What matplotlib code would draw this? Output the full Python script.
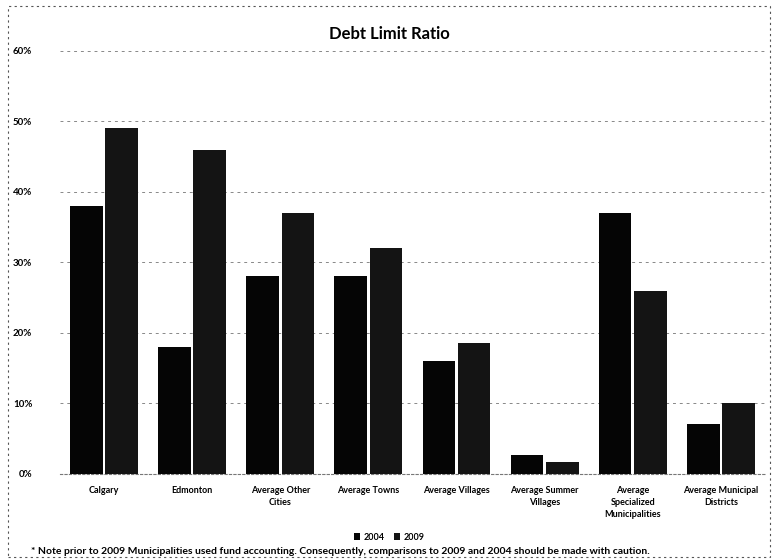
import matplotlib
matplotlib.use("Agg")
import matplotlib.pyplot as plt
import numpy as np
from matplotlib.patches import Rectangle

categories = ["Calgary", "Edmonton", "Average Other\nCities", "Average Towns",
              "Average Villages", "Average Summer\nVillages",
              "Average\nSpecialized\nMunicipalities", "Average Municipal\nDistricts"]
series_names = ["2004", "2009"]
values_2004 = [38, 18, 28, 28, 16, 2.6, 37, 7]
values_2009 = [49, 46, 37, 32, 18.5, 1.6, 26, 10]
yticks = [0, 10, 20, 30, 40, 50, 60]
ytick_labels = ["0%", "10%", "20%", "30%", "40%", "50%", "60%"]
title = "Debt Limit Ratio"
footnote = "* Note prior to 2009 Municipalities used fund accounting. Consequently, comparisons to 2009 and 2004 should be made with caution."

plt.rcParams['font.family'] = ['Lato', 'DejaVu Sans']

fig = plt.figure(figsize=(7.79, 5.6), dpi=100)
ax = fig.add_axes([0.077, 0.154, 0.905, 0.755])

x = np.arange(len(categories))
w = 0.37
ax.bar(x - 0.2, values_2004, width=w, color="#050505", label=series_names[0], zorder=3)
ax.bar(x + 0.2, values_2009, width=w, color="#141414", label=series_names[1], zorder=3)

ax.set_xlim(-0.5, len(categories) - 0.5)
ax.set_ylim(0, 60)
ax.set_yticks(yticks)
ax.set_yticklabels(ytick_labels, fontsize=7, fontweight="bold")
ax.set_xticks(x)
ax.set_xticklabels(categories, fontsize=6.5, fontweight="bold", linespacing=1.4)
ax.tick_params(axis="both", length=0)
ax.tick_params(axis="y", pad=20)
ax.tick_params(axis="x", pad=9)
ax.grid(axis="y", color="#888888", linestyle=(0, (3, 4)), linewidth=0.7, zorder=0)
for s in ["top", "right", "left"]:
    ax.spines[s].set_visible(False)
ax.spines["bottom"].set_color("#777777")
ax.spines["bottom"].set_linestyle((0, (2, 2)))

fig.text(0.5, 0.94, title, ha="center", va="center", fontsize=12, fontweight="bold")

leg = fig.legend(loc="center", bbox_to_anchor=(0.5, 0.041), ncol=2, frameon=False,
                 fontsize=6.5, handlelength=0.7, handleheight=0.7, columnspacing=1.0,
                 handletextpad=0.4)
for t in leg.get_texts():
    t.set_fontweight("bold")

fig.text(0.04, 0.016, footnote, ha="left", va="center", fontsize=7.5, fontweight="bold")

border = Rectangle((0.01, 0.005), 0.978, 0.985, transform=fig.transFigure, fill=False,
                   edgecolor="#555555", linestyle=(0, (2, 3)), linewidth=0.8)
fig.add_artist(border)

fig.savefig("out.png", dpi=100)
